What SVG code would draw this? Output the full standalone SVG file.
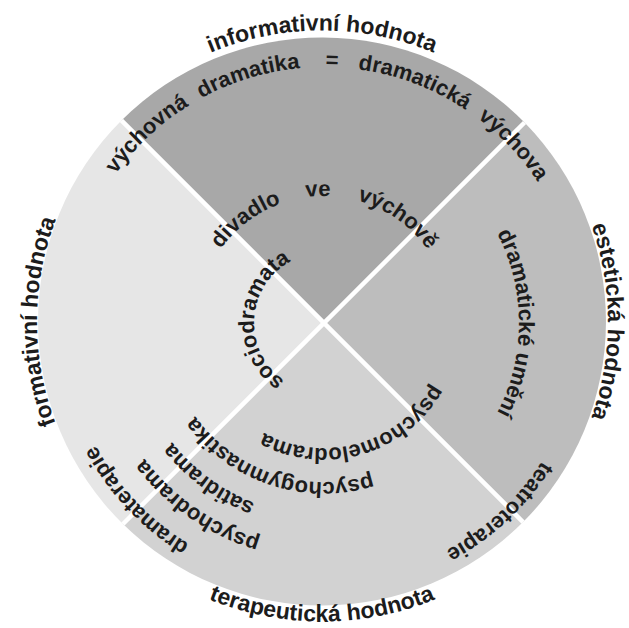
<svg xmlns="http://www.w3.org/2000/svg" xmlns:xlink="http://www.w3.org/1999/xlink" width="629" height="628" viewBox="0 0 629 628">
<style>
  text { font-family: "Liberation Sans", Arial, sans-serif; font-weight: bold; font-size: 22px; fill: #1c1c1c; text-anchor: middle; }
  .outer { font-size: 23px; }
  .sep { stroke: #ffffff; stroke-width: 4.5; fill: none; }
</style>
<defs>
  <path id="r256" d="M324,579 A256,256 0 1,1 324,67 A256,256 0 1,1 324,579"/>
  <path id="r127" d="M324,450 A127,127 0 1,1 324,196 A127,127 0 1,1 324,450"/>
  <path id="r70" d="M324,393 A70,70 0 1,1 324,253 A70,70 0 1,1 324,393"/>
  <path id="r195" d="M324,518 A195,195 0 1,1 324,128 A195,195 0 1,1 324,518"/>
  <path id="r125" d="M324,448 A125,125 0 1,1 324,198 A125,125 0 1,1 324,448"/>
  <path id="r159" d="M324,482 A159,159 0 1,1 324,164 A159,159 0 1,1 324,482"/>
  <path id="r193" d="M324,516 A193,193 0 1,1 324,130 A193,193 0 1,1 324,516"/>
  <path id="r225" d="M324,548 A225,225 0 1,1 324,98 A225,225 0 1,1 324,548"/>
  <path id="r259" d="M324,582 A259,259 0 1,1 324,64 A259,259 0 1,1 324,582"/>
  <path id="r258" d="M324,581 A258,258 0 1,1 324,65 A258,258 0 1,1 324,581"/>
  <path id="o291" d="M322,612.5 A291,291 0 1,1 322,30.5 A291,291 0 1,1 322,612.5"/>
  <path id="o285" d="M322,606.5 A285,285 0 1,1 322,36.5 A285,285 0 1,1 322,606.5"/>
  <path id="o286" d="M322,607.5 A286,286 0 1,1 322,35.5 A286,286 0 1,1 322,607.5"/>
  <path id="o300ccw" d="M322,21.5 A300,300 0 1,0 322,621.5 A300,300 0 1,0 322,21.5"/>
</defs>
<rect width="629" height="628" fill="#ffffff"/>
<g id="sectors">
  <g id="sector-top"><path d="M324,323 L121.43,120.43 A284,284 0 0,1 524.52,122.48 Z" fill="#a8a8a8"/></g>
  <g id="sector-right"><path d="M324,323 L524.52,122.48 A284,284 0 0,1 523.07,522.07 Z" fill="#bdbdbd"/></g>
  <g id="sector-bottom"><path d="M324,323 L523.07,522.07 A284,284 0 0,1 122.98,524.02 Z" fill="#d2d2d2"/></g>
  <g id="sector-left"><path d="M324,323 L122.98,524.02 A284,284 0 0,1 121.43,120.43 Z" fill="#e6e6e6"/></g>
</g>
<g id="separators">
  <path class="sep" d="M121.43,120.43 L523.07,522.07"/>
  <path class="sep" d="M524.52,122.48 L122.98,524.02"/>
</g>
<g id="labels">
  <g id="label-informativni"><text class="outer"><textPath xlink:href="#o291" startOffset="50%">informativní hodnota</textPath></text></g>
  <g id="label-esteticka"><text class="outer" transform="rotate(90 322 321.5)"><textPath xlink:href="#o286" startOffset="50%">estetická hodnota</textPath></text></g>
  <g id="label-formativni"><text class="outer" transform="rotate(270 322 321.5)"><textPath xlink:href="#o285" startOffset="50%">formativní hodnota</textPath></text></g>
  <g id="label-terapeuticka"><text class="outer"><textPath xlink:href="#o300ccw" startOffset="50%">terapeutická hodnota</textPath></text></g>

  <g id="label-vychovna-dramatika">
    <text transform="rotate(-43.1 324 323)"><textPath xlink:href="#r256" startOffset="50%">výchovná</textPath></text>
    <text transform="rotate(-17 324 323)"><textPath xlink:href="#r256" startOffset="50%">dramatika</textPath></text>
    <text transform="rotate(1.8 324 323)"><textPath xlink:href="#r256" startOffset="50%">=</textPath></text>
    <text transform="rotate(20.6 324 323)"><textPath xlink:href="#r256" startOffset="50%">dramatická</textPath></text>
    <text transform="rotate(46.7 324 323)"><textPath xlink:href="#r256" startOffset="50%">výchova</textPath></text>
  </g>
  <g id="label-divadlo-ve-vychove">
    <text transform="rotate(-37 324 323)"><textPath xlink:href="#r127" startOffset="50%">divadlo</textPath></text>
    <text transform="rotate(-2.6 324 323)"><textPath xlink:href="#r127" startOffset="50%">ve</textPath></text>
    <text transform="rotate(35 324 323)"><textPath xlink:href="#r127" startOffset="50%">výchově</textPath></text>
  </g>
  <g id="label-sociodramata"><text transform="rotate(273 324 323)"><textPath xlink:href="#r70" startOffset="50%">sociodramata</textPath></text></g>
  <g id="label-dramaticke-umeni"><text transform="rotate(90 324 323)"><textPath xlink:href="#r195" startOffset="50%">dramatické umění</textPath></text></g>
  <g id="label-psychomelodrama"><text transform="rotate(164 324 323)"><textPath xlink:href="#r125" startOffset="50%">psychomelodrama</textPath></text></g>
  <g id="label-psychogymnastika"><text transform="rotate(198.3 324 323)"><textPath xlink:href="#r159" startOffset="50%">psychogymnastika</textPath></text></g>
  <g id="label-satidrama"><text transform="rotate(216.4 324 323)"><textPath xlink:href="#r193" startOffset="50%">satidrama</textPath></text></g>
  <g id="label-psychodrama"><text transform="rotate(214.7 324 323)"><textPath xlink:href="#r225" startOffset="50%">psychodrama</textPath></text></g>
  <g id="label-dramaterapie"><text transform="rotate(226.6 324 323)"><textPath xlink:href="#r259" startOffset="50%">dramaterapie</textPath></text></g>
  <g id="label-teatroterapie"><text transform="rotate(137.1 324 323)"><textPath xlink:href="#r258" startOffset="50%">teatroterapie</textPath></text></g>
</g>
</svg>
